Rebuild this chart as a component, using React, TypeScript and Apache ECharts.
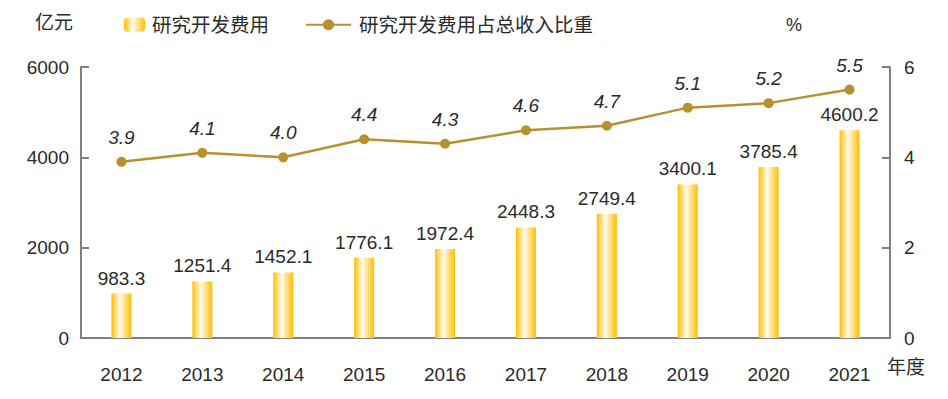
import React, { useEffect, useRef } from "react";
import * as echarts from "echarts";

const years = ["2012", "2013", "2014", "2015", "2016", "2017", "2018", "2019", "2020", "2021"];
const rdExpense = [983.3, 1251.4, 1452.1, 1776.1, 1972.4, 2448.3, 2749.4, 3400.1, 3785.4, 4600.2];
const rdRatio = [3.9, 4.1, 4.0, 4.4, 4.3, 4.6, 4.7, 5.1, 5.2, 5.5];
const barName = "研究开发费用";
const lineName = "研究开发费用占总收入比重";

const FONT = "'Liberation Sans', Arial, 'Noto Sans CJK SC', sans-serif";
const TXT = "#2a2a2a";
const AXIS = "#808080";
const GOLD = "#B8912F";

export default function App() {
  const ref = useRef<HTMLDivElement>(null);
  useEffect(() => {
    document.body.style.margin = "0";
    const chart = echarts.init(ref.current!, undefined, { renderer: "svg" });
    const barGrad = new echarts.graphic.LinearGradient(0, 0, 1, 0, [
      { offset: 0, color: "#FFBE00" },
      { offset: 0.42, color: "#FFFCEE" },
      { offset: 1, color: "#FFBE00" },
    ]);
    chart.setOption({
      animation: false,
      textStyle: { fontFamily: FONT },
      grid: { left: 81, right: 58, top: 67, bottom: 61 },
      legend: [
        {
          data: [barName],
          left: 119,
          top: 10,
          itemWidth: 21,
          itemHeight: 14,
          textStyle: { fontSize: 19.5, color: TXT, fontFamily: FONT, padding: [0, 0, 0, 2] },
        },
        {
          data: [lineName],
          left: 300,
          top: 10,
          itemWidth: 45,
          itemHeight: 14,
          textStyle: { fontSize: 19.5, color: TXT, fontFamily: FONT, padding: [0, 0, 0, 3] },
        },
      ],
      graphic: [
        { type: "text", left: 35, top: 13, style: { text: "亿元", fontSize: 19, fill: TXT, fontFamily: FONT } },
        { type: "text", left: 786, top: 16, style: { text: "%", fontSize: 18, fill: TXT, fontFamily: FONT } },
        { type: "text", left: 887, top: 358, style: { text: "年度", fontSize: 19, fill: TXT, fontFamily: FONT } },
      ],
      xAxis: {
        type: "category",
        data: years,
        boundaryGap: true,
        axisLine: { lineStyle: { color: AXIS, width: 2 } },
        axisTick: { inside: true, length: 8, lineStyle: { color: AXIS, width: 2 } },
        axisLabel: { fontSize: 19, color: TXT, margin: 27, fontFamily: FONT },
      },
      yAxis: [
        {
          type: "value",
          min: 0,
          max: 6000,
          interval: 2000,
          splitLine: { show: false },
          axisLine: { show: true, lineStyle: { color: AXIS, width: 2 } },
          axisTick: { show: true, inside: true, length: 8, lineStyle: { color: AXIS, width: 2 } },
          axisLabel: { fontSize: 19, color: TXT, margin: 12, fontFamily: FONT, formatter: (v: number) => String(v) },
        },
        {
          type: "value",
          min: 0,
          max: 6,
          interval: 2,
          position: "right",
          splitLine: { show: false },
          axisLine: { show: true, lineStyle: { color: AXIS, width: 2 } },
          axisTick: { show: true, inside: true, length: 8, lineStyle: { color: AXIS, width: 2 } },
          axisLabel: { fontSize: 19, color: TXT, margin: 14, fontFamily: FONT },
        },
      ],
      series: [
        {
          name: barName,
          type: "bar",
          data: rdExpense,
          barWidth: 20,
          itemStyle: { color: barGrad },
          label: {
            show: true,
            position: "top",
            distance: 6,
            fontSize: 19,
            color: TXT,
            fontFamily: FONT,
          },
        },
        {
          name: lineName,
          type: "line",
          yAxisIndex: 1,
          data: rdRatio,
          symbol: "circle",
          symbolSize: 10,
          lineStyle: { color: GOLD, width: 2.5 },
          itemStyle: { color: GOLD },
          label: {
            show: true,
            position: "top",
            distance: 10,
            fontSize: 19,
            fontStyle: "italic",
            color: TXT,
            fontFamily: FONT,
            formatter: (p: any) => Number(p.value).toFixed(1),
          },
        },
      ],
    });
    return () => chart.dispose();
  }, []);
  return <div ref={ref} style={{ width: 948, height: 399 }} />;
}
